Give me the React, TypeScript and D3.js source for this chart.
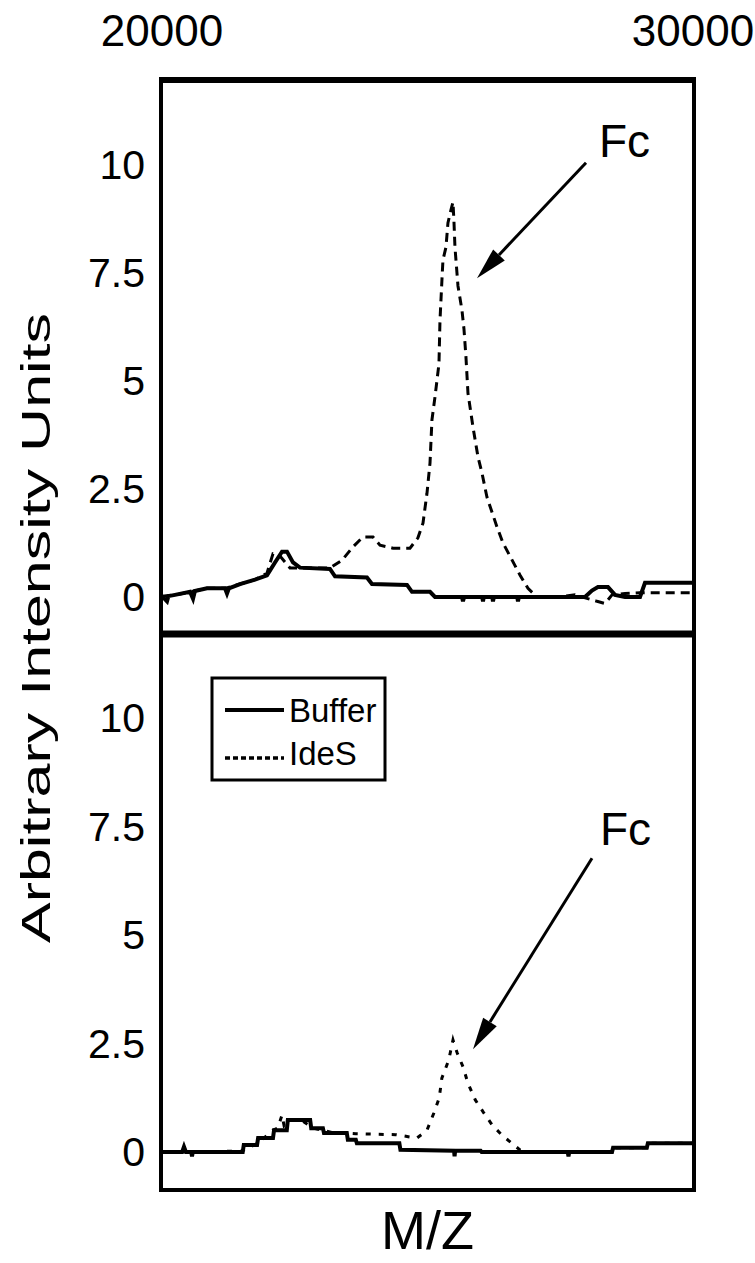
import React from 'react';
import * as d3 from 'd3';

// m/z, intensity pairs
const topBuffer: [number, number][] = [
  [20000, 0.02], [20094, -0.1], [20120, 0.02], [20245, 0.05], [20527, 0.12], [20584, -0.04],
  [20620, 0.14], [20847, 0.2], [21186, 0.2], [21224, 0.08], [21260, 0.2], [21469, 0.3],
  [21751, 0.4], [21977, 0.5], [22128, 0.8], [22260, 1.05], [22354, 1.05], [22467, 0.8],
  [22599, 0.68], [23163, 0.65], [23258, 0.48], [23860, 0.45], [23954, 0.3], [24614, 0.28],
  [24708, 0.12], [25047, 0.12], [25141, 0], [25650, 0], [25668, -0.1], [25690, 0],
  [26030, 0], [26045, -0.1], [26060, 0], [26220, 0], [26233, -0.1], [26250, 0],
  [26690, 0], [26704, -0.1], [26720, 0], [27966, 0], [28097, 0.15], [28210, 0.23],
  [28399, 0.23], [28531, 0.05], [28719, 0], [29002, 0], [29096, 0.33], [30000, 0.33],
];

const topIdeS: [number, number][] = [
  [20000, 0.02], [20300, 0.06], [20527, 0.12], [20847, 0.2], [21186, 0.2], [21469, 0.3],
  [21751, 0.4], [21977, 0.55], [22090, 1.0], [22222, 0.95], [22411, 0.67], [23163, 0.67],
  [23389, 0.85], [23596, 1.16], [23785, 1.39], [23973, 1.39], [24105, 1.2], [24350, 1.13],
  [24670, 1.13], [24820, 1.37], [24915, 1.71], [24990, 2.4], [25047, 3.1], [25084, 4.1],
  [25141, 4.63], [25216, 5.4], [25235, 6.4], [25272, 7.34], [25291, 7.8], [25348, 8.1],
  [25385, 8.66], [25442, 8.96], [25480, 9.14], [25498, 8.7], [25517, 8.1], [25536, 7.8],
  [25574, 7.2], [25649, 6.64], [25687, 6.2], [25724, 5.56], [25762, 4.72], [25856, 3.94],
  [25951, 3.24], [26026, 2.87], [26120, 2.31], [26309, 1.62], [26422, 1.25], [26591, 0.86],
  [26741, 0.51], [26892, 0.2], [27062, 0], [27495, 0], [27778, 0.05], [28192, -0.1],
  [28343, -0.15], [28475, 0.05], [28719, 0.08], [29002, 0.1], [30000, 0.1],
];

const bottomBuffer: [number, number][] = [
  [20000, 0], [20380, 0], [20414, 0.12], [20450, 0], [20550, 0], [20565, -0.1], [20580, 0],
  [21520, 0], [21540, 0.16], [21790, 0.16], [21810, 0.32], [22090, 0.32], [22110, 0.5],
  [22350, 0.5], [22370, 0.74], [22790, 0.74], [22810, 0.55], [23030, 0.55], [23050, 0.44],
  [23480, 0.44], [23500, 0.28], [23650, 0.28], [23670, 0.2], [24470, 0.2], [24490, 0.05],
  [25500, 0.03], [25510, -0.1], [25520, 0.03], [26000, 0.03], [26020, 0], [27640, 0],
  [27655, -0.1], [27670, 0], [28475, 0], [28495, 0.1], [29130, 0.1], [29150, 0.2], [30000, 0.2],
];

const bottomIdeS: [number, number][] = [
  [20000, 0], [21500, 0.02], [21800, 0.2], [22090, 0.5], [22180, 0.55], [22260, 0.85],
  [22300, 0.6], [22450, 0.74], [22640, 0.72], [22850, 0.55], [23200, 0.45], [23650, 0.42],
  [24400, 0.4], [24800, 0.32], [24990, 0.5], [25120, 0.9], [25220, 1.24], [25270, 1.7],
  [25400, 2.12], [25480, 2.58], [25500, 2.5], [25560, 2.28], [25670, 1.96], [25760, 1.59],
  [25900, 1.2], [26050, 0.92], [26220, 0.62], [26400, 0.39], [26590, 0.2], [26740, 0.05],
  [26900, 0], [28475, 0], [28495, 0.1], [29130, 0.1], [29150, 0.2], [30000, 0.2],
];

const xTicks = [20000, 30000];
const yTicks = [0, 2.5, 5, 7.5, 10];
const legendItems = ['Buffer', 'IdeS'];
// Fc arrows and labels, in data units (m/z, intensity)
const topArrow = { tail: [27985, 10.05], tip: [25932, 7.38], label: [28230, 10.19] };
const bottomArrow = { tail: [28098, 6.77], tip: [25857, 2.37], label: [28249, 7.07] };

const FONT = '"Liberation Sans", Arial, Helvetica, sans-serif';

export default function App() {
  const W = 755;
  const H = 1263;
  const left = 161;
  const right = 694;
  const top = 80;
  const mid = 634;
  const bottom = 1190;

  const x = d3.scaleLinear().domain([20000, 30000]).range([162, 693]);
  const yTop = d3.scaleLinear().domain([0, 10]).range([597, 165]);
  const yBot = d3.scaleLinear().domain([0, 10]).range([1152, 718]);

  const lineTop = d3.line<[number, number]>().x(d => x(d[0])).y(d => yTop(d[1]));
  const lineBot = d3.line<[number, number]>().x(d => x(d[0])).y(d => yBot(d[1]));

  const arrow = (a: { tail: number[]; tip: number[]; label: number[] }, y: d3.ScaleLinear<number, number>) => {
    const x1 = x(a.tail[0]);
    const y1 = y(a.tail[1]);
    const x2 = x(a.tip[0]);
    const y2 = y(a.tip[1]);
    const ang = Math.atan2(y2 - y1, x2 - x1);
    const len = 32;
    const w = 8;
    const bx = x2 - len * Math.cos(ang);
    const by = y2 - len * Math.sin(ang);
    const px = -Math.sin(ang) * w;
    const py = Math.cos(ang) * w;
    return (
      <g>
        <line x1={x1} y1={y1} x2={bx} y2={by} stroke="#000" strokeWidth={3} />
        <polygon points={`${x2},${y2} ${bx + px},${by + py} ${bx - px},${by - py}`} fill="#000" />
        <text x={x(a.label[0])} y={y(a.label[1])} fontSize={46}>Fc</text>
      </g>
    );
  };

  return (
    <svg width={W} height={H} style={{ position: 'absolute', left: 0, top: 0, background: '#fff' }}
      fontFamily={FONT}>
      {/* x tick labels on top */}
      {xTicks.map(t => (
        <text key={t} x={x(t)} y={46} fontSize={44} textAnchor="middle">{t}</text>
      ))}

      {/* y tick labels, both panels */}
      {yTicks.map(t => (
        <text key={'t' + t} x={145} y={yTop(t)} fontSize={41} textAnchor="end" dominantBaseline="central">{t}</text>
      ))}
      {yTicks.map(t => (
        <text key={'b' + t} x={145} y={yBot(t)} fontSize={41} textAnchor="end" dominantBaseline="central">{t}</text>
      ))}

      <text transform={`translate(50,628) rotate(-90)`} fontSize={40} textAnchor="middle"
        textLength={630} lengthAdjust="spacingAndGlyphs">
        Arbitrary Intensity Units
      </text>
      <text x={(left + right) / 2} y={1249} fontSize={54} textAnchor="middle">M/Z</text>

      {/* traces */}
      <path d={lineTop(topBuffer) || ''} fill="none" stroke="#000" strokeWidth={4} />
      <path d={lineTop(topIdeS) || ''} fill="none" stroke="#000" strokeWidth={3} strokeDasharray="9,6" />
      <path d={lineBot(bottomBuffer) || ''} fill="none" stroke="#000" strokeWidth={4} />
      <path d={lineBot(bottomIdeS) || ''} fill="none" stroke="#000" strokeWidth={3} strokeDasharray="5,8" />

      {/* frames */}
      <rect x={left} y={top} width={right - left} height={bottom - top} fill="none" stroke="#000" strokeWidth={4} />
      <line x1={left - 2} x2={right + 2} y1={top} y2={top} stroke="#000" strokeWidth={6} />
      <line x1={left} x2={right} y1={mid} y2={mid} stroke="#000" strokeWidth={7} />

      {/* Fc annotations */}
      {arrow(topArrow, yTop)}
      {arrow(bottomArrow, yBot)}

      {/* legend */}
      <rect x={212} y={678} width={173} height={102} fill="#fff" stroke="#000" strokeWidth={3} />
      {legendItems.map((name, i) => (
        <g key={name}>
          <line x1={225} x2={284} y1={710 + i * 48} y2={710 + i * 48} stroke="#000"
            strokeWidth={i === 0 ? 4 : 3.5} strokeDasharray={i === 0 ? undefined : '5,3'} />
          <text x={289} y={722 + i * 43} fontSize={33}>{name}</text>
        </g>
      ))}
    </svg>
  );
}
